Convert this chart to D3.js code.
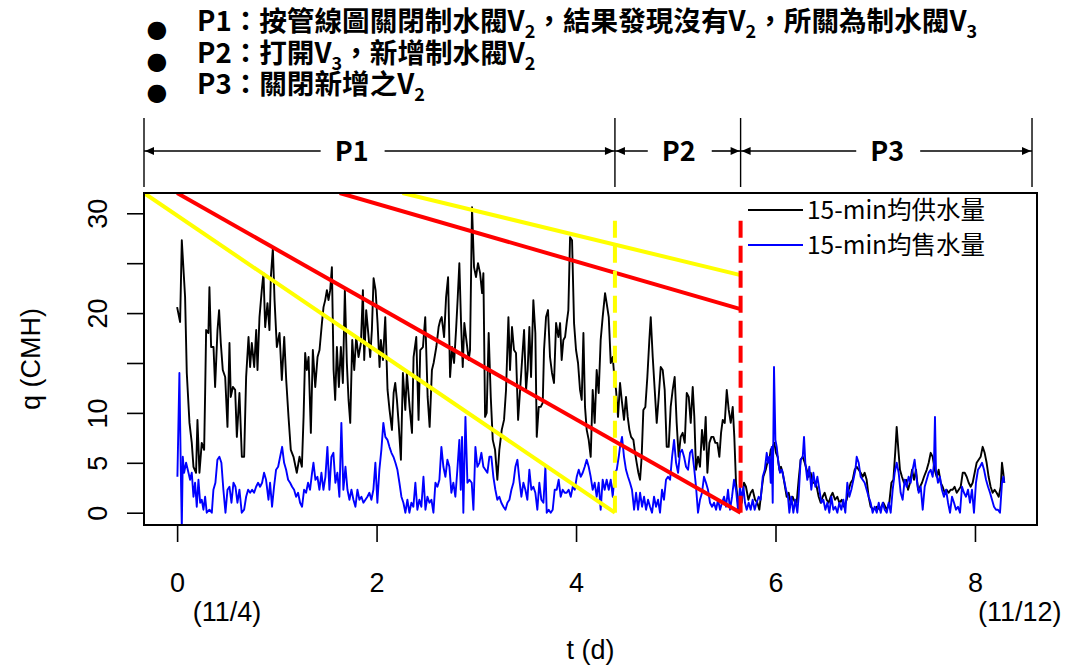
<!DOCTYPE html>
<html><head><meta charset="utf-8">
<script src="https://cdn.jsdelivr.net/npm/d3@7"></script>
<style>body{margin:0;background:#fff}svg{display:block}</style>
</head><body>
<svg id="c" width="1067" height="665"></svg>
<script>
// ---------- data ----------
const supply = [[0,20.6],[0.03,19.1],[0.047,27.3],[0.08,21.6],[0.097,14],[0.124,9],[0.147,7],[0.164,4.6],[0.19,4],[0.204,9.3],
[0.224,4],[0.247,7],[0.271,6.3],[0.281,12],[0.291,18.3],[0.314,18],[0.324,22.6],[0.341,16.6],[0.365,16.6],[0.381,12.6],
[0.405,18.3],[0.421,20.3],[0.438,17],[0.458,14.3],[0.482,13.6],[0.505,8.6],[0.525,17],[0.538,11.6],[0.559,12.6],[0.582,12.3],
[0.599,7.6],[0.625,12],[0.649,5.6],[0.672,5.6],[0.692,13.6],[0.716,17.6],[0.732,14.6],[0.749,17],[0.773,14.6],[0.793,18.3],
[0.806,14.3],[0.826,19.6],[0.849,22.3],[0.866,24],[0.883,18.6],[0.906,21],[0.926,18.3],[0.94,23.6],[0.96,26.5],[0.977,21.3],
[1.0,16.6],[1.027,18],[1.05,13.3],[1.074,17.6],[1.094,13.3],[1.117,9.6],[1.14,6.3],[1.167,5.6],[1.2,4],[1.227,5.6],
[1.251,4.6],[1.268,9.6],[1.284,16],[1.301,14.3],[1.318,15.6],[1.341,8],[1.361,16.3],[1.385,12.6],[1.408,15.6],[1.428,16.3],
[1.452,19],[1.468,20.6],[1.485,21.3],[1.502,22.3],[1.518,21.3],[1.535,22.3],[1.552,24.6],[1.569,14.3],[1.585,11.3],[1.602,16.6],
[1.622,12.6],[1.642,16.6],[1.662,13],[1.682,22.3],[1.702,15],[1.719,11.3],[1.736,9],[1.756,17.3],[1.776,14.3],[1.796,17.6],
[1.819,15.6],[1.843,17],[1.863,22.3],[1.876,15.3],[1.896,20.3],[1.92,17.6],[1.936,15.6],[1.953,18.3],[1.97,23.5],[1.99,22.3],
[2.01,19],[2.03,14.6],[2.043,17.3],[2.064,15.3],[2.087,19.6],[2.11,12.3],[2.13,10.3],[2.154,8.3],[2.171,12],[2.187,13],
[2.204,11.3],[2.221,9],[2.244,5.3],[2.264,14],[2.288,10.3],[2.304,14],[2.331,10.6],[2.355,8],[2.371,15.6],[2.398,17.6],
[2.421,9.3],[2.438,16.3],[2.465,16.6],[2.488,19.6],[2.512,11.6],[2.532,8.6],[2.555,14.3],[2.572,15],[2.599,16.6],[2.622,18.6],
[2.639,19.3],
[2.653,19.6],[2.677,17.6],[2.697,21.6],[2.717,23.6],[2.737,13.6],[2.757,16.6],[2.777,15],[2.797,18.3],[2.814,21.6],[2.83,25],
[2.847,19],[2.864,14.6],[2.88,19],[2.904,17],[2.924,15.3],[2.937,16.3],[2.957,30.6],[2.977,24.6],[2.997,23.6],[3.017,25],
[3.038,24],[3.058,22],[3.071,24],[3.088,9.6],[3.104,10],[3.124,18],[3.145,11.6],[3.165,7.3],[3.188,6.3],[3.211,3.3],
[3.231,6.3],[3.255,8.3],[3.278,9.3],[3.298,12.3],[3.322,19.6],[3.338,14.3],[3.358,18.6],[3.378,16.3],[3.398,16],[3.419,9.3],
[3.439,12.3],[3.459,15.3],[3.479,18.3],[3.499,12.3],[3.515,14.3],[3.532,18.6],[3.549,13.6],[3.572,21.3],[3.592,18],[3.606,7.6],
[3.626,10.6],[3.646,10.6],[3.666,11],[3.679,16.3],[3.699,19.6],[3.719,20.3],[3.739,15.6],[3.759,14],[3.779,13],[3.8,19],
[3.823,17.6],[3.84,19],[3.856,15.3],[3.873,17.3],[3.89,17.6],[3.906,19],[3.923,20.3],[3.94,27.6],[3.96,27.3],[3.98,19],
[4.0,16.3],[4.02,15],[4.04,12.3],[4.057,11.3],[4.074,18],[4.09,10.6],[4.107,8.3],[4.127,7.3],[4.147,5.6],[4.167,12.3],
[4.187,9],[4.207,14.3],[4.227,12],[4.247,17.3],[4.267,19.6],[4.291,22],[4.307,21],[4.328,19.6],[4.348,15],[4.368,15.6],
[4.384,13.6],[4.401,12.3],[4.421,9.6],[4.441,13],[4.458,11.3],[4.481,9.3],[4.501,11.6],[4.518,9.6],[4.535,8.3],[4.552,7.6],
[4.575,7.3],[4.592,6],[4.608,5],[4.625,4],[4.642,3.3],[4.658,5.6],[4.675,10.3],[4.695,10.6],[4.715,13.6],[4.735,17.3],
[4.749,19.6],[4.769,15.6],[4.789,12.3],[4.809,9],[4.829,11.6],[4.849,14.6],[4.869,14.3],[4.889,12.3],[4.909,6.6],[4.929,6.6],
[4.949,10.6],[4.969,12.3],[4.989,13.6],[5.009,9],[5.029,5.6],[5.049,7.6],[5.069,8],[5.09,7],[5.11,12],[5.13,11.6],
[5.15,9],[5.17,12.6],[5.186,9.6],[5.203,4.3],[5.223,5.6],[5.243,4.6],[5.263,8.3],[5.283,6.3],[5.3,9.6],[5.317,4],
[5.337,7],[5.357,7.6],[5.377,7.6],[5.397,7],[5.417,7],[5.437,5.6],[5.454,8],[5.471,9.3],[5.491,9],[5.511,12.3],
[5.531,10.3],[5.551,9],[5.571,10.6],[5.587,7.6],[5.604,3],[5.628,0.5],
[5.661,1],[5.684,3],[5.704,2.6],[5.728,1.3],[5.751,2],[5.771,2.3],[5.795,1.3],[5.818,1],[5.838,0.3],[5.861,2.3],
[5.878,3.6],[5.902,4.3],[5.918,5],[5.938,5.3],[5.952,6.3],[5.972,6.6],[5.988,7],[6.005,6],[6.022,5.6],[6.039,4.3],
[6.055,4.6],[6.072,4],[6.089,3],[6.112,1.6],[6.132,2],[6.152,1],[6.172,1.6],[6.196,1],[6.212,1],[6.232,3.3],
[6.252,5.3],[6.273,5.6],[6.293,5],[6.313,4.3],[6.333,3.6],[6.353,4],[6.373,3],[6.393,3],[6.413,2.6],[6.433,1.6],
[6.453,1],[6.473,1.6],[6.493,2],[6.513,1.3],[6.533,1],[6.553,1.6],[6.573,2],[6.597,1.3],[6.62,1.6],[6.64,1],
[6.664,1.3],[6.687,0.6],[6.714,1.3],[6.734,2.3],[6.754,3],[6.774,3.3],[6.794,4.3],[6.814,4.6],[6.834,4.3],[6.854,4],
[6.874,3.6],[6.894,4],[6.914,3.3],[6.934,1.6],[6.954,0.6],[6.981,0.3],[7.015,0.6],[7.048,0.3],[7.081,1],[7.115,0.3],
[7.141,1],[7.162,3],[7.182,3.3],[7.202,6.3],[7.215,8.6],[7.232,6.3],[7.248,4.3],[7.268,3.6],[7.288,3],[7.309,3.3],
[7.329,2.3],[7.349,3],[7.369,4.3],[7.389,3.3],[7.409,4.3],[7.429,2.3],[7.449,2.6],[7.469,3],[7.489,3.6],[7.516,4.3],
[7.536,5],[7.556,6],[7.576,5.6],[7.596,4.3],[7.616,3.6],[7.636,4.3],[7.656,3],[7.676,2.6],[7.696,2],[7.716,2.3],
[7.736,2],[7.756,2.3],[7.776,2.3],[7.796,2.6],[7.817,2],[7.837,2.3],[7.857,2.6],[7.877,4],[7.897,4],[7.917,3.6],
[7.937,3],[7.957,2.6],[7.977,3],[7.997,4],[8.017,5],[8.037,5.3],[8.057,5.6],[8.077,6.6],[8.097,6],[8.117,5],
[8.137,3.6],[8.157,2.6],[8.177,2],[8.197,2.3],[8.217,2],[8.238,1.6],[8.258,2.6],[8.271,5],[8.284,4],[8.294,3]];

const sales = [[0.003,3.6],[0.023,14],[0.037,4.3],[0.047,-1.5],[0.057,5.6],[0.07,4],[0.09,5],[0.114,4],[0.13,3.3],[0.147,4],
[0.164,1.6],[0.18,3],[0.197,0.6],[0.214,3.3],[0.231,1],[0.247,1.3],[0.264,0.3],[0.281,1.6],[0.297,0],[0.324,0.3],
[0.348,0],[0.364,2.3],[0.384,3],[0.404,5.3],[0.424,5.6],[0.444,5],[0.464,2.3],[0.485,0],[0.505,2.3],[0.525,2.6],
[0.545,1],[0.565,3],[0.585,2.6],[0.605,1],[0.625,2.3],[0.648,0],[0.672,0.3],[0.692,1.6],[0.712,2.3],[0.732,2],
[0.752,2.3],[0.772,2],[0.792,2.6],[0.812,3],[0.832,2.6],[0.852,3],[0.872,4],[0.892,3.3],[0.916,1.3],[0.932,3],
[0.952,0.6],[0.972,2.6],[0.992,4.3],[1.013,4.6],[1.033,5.6],[1.053,6.6],[1.073,5],[1.093,4.3],[1.113,3.3],[1.133,3],
[1.153,2.6],[1.173,2.3],[1.193,1.6],[1.213,2],[1.233,1],[1.253,0.6],[1.273,2.3],[1.293,2],[1.313,3],[1.333,2.3],
[1.353,4],[1.367,5],[1.387,3.3],[1.407,3.6],[1.427,2.3],[1.447,4],[1.467,2.3],[1.487,3.6],[1.507,6.6],[1.527,2.3],
[1.547,5.6],[1.567,6],[1.587,3],[1.607,4],[1.627,1.6],[1.647,9],[1.667,2.3],[1.688,4.6],[1.708,2.3],[1.728,1.3],
[1.748,2.3],[1.768,1.3],[1.788,0.6],[1.808,2.3],[1.828,1.3],[1.848,1.6],[1.868,1],[1.888,1.3],[1.908,1.6],[1.928,2],
[1.948,1.3],[1.968,2.3],[1.988,5],[2.008,1],[2.028,4.3],[2.048,6.3],[2.068,9],[2.088,7.6],[2.109,7.3],[2.129,6.6],
[2.149,6],[2.169,5.6],[2.189,5],[2.209,4.3],[2.229,3],[2.249,1.6],[2.269,1],[2.289,0],[2.309,1.3],[2.329,0],
[2.349,1],[2.369,0.6],[2.389,3],[2.409,0.3],[2.429,1.3],[2.449,0.6],[2.47,3.6],[2.49,0.3],[2.51,1.6],[2.53,1],
[2.55,1.3],[2.57,0],[2.59,3],[2.61,2.6],[2.63,3.3],
[2.65,6.6],[2.67,4.6],[2.69,3.6],[2.71,5.3],[2.73,4.6],[2.75,2],[2.77,3],[2.79,1.6],[2.81,4.3],[2.83,7.3],
[2.844,2.3],[2.857,7.6],[2.87,0],[2.891,9.6],[2.911,3],[2.931,3.3],[2.954,3],[2.971,0.3],[2.991,6.6],[3.011,4.6],
[3.031,5],[3.051,6],[3.071,4.6],[3.091,4.3],[3.111,4],[3.131,5.6],[3.151,5.6],[3.171,3.6],[3.191,2.3],[3.211,1.3],
[3.231,1.6],[3.251,1],[3.272,0.6],[3.292,0.3],[3.312,1],[3.332,1.3],[3.352,2.3],[3.372,3],[3.392,4.6],[3.412,5.3],
[3.432,3.3],[3.452,1.6],[3.472,3],[3.492,2.3],[3.512,1.3],[3.532,4.3],[3.552,2.3],[3.572,2.6],[3.592,2],[3.612,0.3],
[3.632,3],[3.652,1.3],[3.673,1],[3.693,4.6],[3.706,0],[3.726,0.3],[3.746,0],[3.766,0.3],[3.786,2.3],[3.806,2.3],
[3.826,3.3],[3.846,1.6],[3.866,2.3],[3.886,2],[3.906,2],[3.926,2.3],[3.947,1.6],[3.967,2.6],[3.987,2.3],[4.007,3.6],
[4.027,4.3],[4.047,3.6],[4.067,4],[4.087,4.6],[4.107,5.3],[4.127,4.6],[4.147,3.6],[4.167,2.3],[4.187,3],[4.207,1.6],
[4.227,3],[4.247,0.3],[4.267,3.3],[4.287,2.3],[4.307,3.3],[4.328,2.3],[4.348,3.3],[4.368,1.6],[4.388,4],[4.408,4.3],
[4.428,5.6],[4.441,6.6],[4.461,7.6],[4.481,5.6],[4.501,4.3],[4.521,3.6],[4.541,3],[4.561,2.3],[4.582,0.3],[4.602,2],
[4.622,0.3],[4.642,2],[4.662,0.6],[4.682,1.6],[4.702,0.3],[4.722,1.3],[4.742,0.6],[4.762,0],[4.782,1.6],[4.802,0.6],
[4.822,1.3],[4.842,0],[4.862,2.3],[4.882,1.3],[4.902,3.3],[4.922,3.6],[4.943,3.3],[4.963,5.6],[4.983,7.3],[5.003,5],
[5.023,4],[5.043,6],[5.063,6.3],[5.083,5.6],[5.103,4.6],[5.123,4.3],[5.143,6],[5.163,6.3],[5.183,4.6],[5.203,2.6],
[5.223,0],[5.243,1.3],[5.263,2],[5.283,3.6],[5.303,3],[5.323,2.3],[5.343,1],[5.364,0.6],[5.384,1],[5.404,0.3],
[5.424,1.3],[5.444,0.3],[5.464,1],[5.484,1.6],[5.504,0.6],[5.524,2.3],[5.544,0.3],[5.564,1.6],[5.584,3.3],[5.604,2.3],
[5.624,0.3],[5.644,2.6],
[5.661,1.3],[5.678,2.6],[5.694,1],[5.711,0.3],[5.731,1],[5.751,0.3],[5.771,1.3],[5.791,0.3],[5.811,1],[5.831,1.6],
[5.851,1.3],[5.872,3.6],[5.892,4.3],[5.912,6],[5.925,5],[5.938,5.6],[5.952,3],[5.962,6.6],[5.972,1],[5.985,14.6],
[5.999,7.3],[6.012,6.6],[6.029,5],[6.045,4],[6.065,4.3],[6.085,3.3],[6.105,2.3],[6.125,1.6],[6.139,0],[6.159,1.6],
[6.179,0],[6.199,1.3],[6.219,0],[6.232,1.6],[6.252,5.3],[6.273,5.6],[6.286,7.6],[6.299,5],[6.319,3.3],[6.339,4.6],
[6.359,2.3],[6.38,4],[6.4,2.6],[6.42,3.6],[6.44,2.3],[6.46,1],[6.48,1.3],[6.5,0.3],[6.52,1],[6.54,0],
[6.56,1.6],[6.58,0.3],[6.6,0.6],[6.62,0],[6.64,1],[6.66,0.3],[6.68,1.3],[6.7,0],[6.72,3],[6.74,1.6],
[6.76,2.3],[6.781,3.3],[6.801,4.3],[6.814,5.6],[6.834,5],[6.854,3.6],[6.874,3.3],[6.894,3],[6.914,2.3],[6.934,1.6],
[6.954,1],[6.974,0],[6.994,0.6],[7.015,0],[7.035,1],[7.055,0],[7.075,1],[7.095,0.3],[7.115,0],[7.135,1],
[7.155,0],[7.175,2.3],[7.195,4],[7.215,5],[7.235,4],[7.255,2],[7.275,1.3],[7.295,3.3],[7.315,2.6],[7.335,3.6],
[7.355,3],[7.375,4.3],[7.395,5.3],[7.416,3.3],[7.436,2],[7.456,2.6],[7.476,0.3],[7.496,2.6],[7.516,3.3],[7.536,4],
[7.556,4.3],[7.576,3.6],[7.589,5],[7.599,9.6],[7.609,4.3],[7.629,3],[7.649,3.6],[7.669,2.3],[7.689,1.6],[7.71,2.3],
[7.73,1],[7.75,0],[7.77,1.6],[7.79,1],[7.81,0.3],[7.83,0.6],[7.85,0],[7.87,2.6],[7.89,2],[7.91,1.6],
[7.93,2.3],[7.95,1],[7.97,2.3],[7.99,0],[8.01,3],[8.03,4.3],[8.05,4.6],[8.071,5],[8.091,4.3],[8.111,3.3],
[8.131,2.6],[8.151,2],[8.171,1.3],[8.191,0.6],[8.211,0.3],[8.231,0.3],[8.251,0],[8.271,3],[8.284,3.6],[8.294,3]];

// envelope lines [t, q] end points
const yellowLow  = [[-0.332, 32.03], [4.39, 0]];
const redLow     = [[0.0, 32.03], [5.65, 0]];
const redHigh    = [[1.63, 32.03], [5.65, 20.4]];
const yellowHigh = [[2.26, 32.03], [5.65, 23.8]];
const yellowDashT = 4.39, redDashT = 5.65, dashTopQ = 29.3;

const xTicks = [0, 2, 4, 6, 8];
const yTicks = [0, 5, 10, 15, 20, 25, 30];
const yTickLabels = ["0", "5", "10", "", "20", "", "30"];
const dateT = [0.5, 8.45];
const dateLabels = ["(11/4)", "(11/12)"];
const xDomain = [-0.332, 8.622];
const yDomain = [-1.232, 32.032];

const periodBounds = [-0.332, 4.39, 5.65, 8.572];
const periodNames = ["P1", "P2", "P3"];
const periodLabelT = [1.75, 5.03, 7.12];

const legendLabels = ["15-min均供水量", "15-min均售水量"];
const notes = [
  [["P1：按管線圖關閉制水閥V", 0], ["2", 1], ["，結果發現沒有V", 0], ["2", 1], ["，所關為制水閥V", 0], ["3", 1]],
  [["P2：打開V", 0], ["3", 1], ["，新增制水閥V", 0], ["2", 1]],
  [["P3：關閉新增之V", 0], ["2", 1]]
];

// ---------- drawing ----------
const svg = d3.select("#c");
const L = 144, R = 1037, T = 193, B = 525;
const x = d3.scaleLinear().domain(xDomain).range([L, R]);
const y = d3.scaleLinear().domain(yDomain).range([B, T]);
const cjk = "'Noto Sans CJK TC','Noto Sans CJK SC',sans-serif";
const sans = "'Liberation Sans',Arial,sans-serif";

svg.append("defs").append("clipPath").attr("id", "plotclip")
  .append("rect").attr("x", L).attr("y", T).attr("width", R - L).attr("height", B - T);

const plot = svg.append("g").attr("clip-path", "url(#plotclip)");
const line = d3.line().x(d => x(d[0])).y(d => y(d[1]));

plot.append("path").datum(supply).attr("d", line)
  .attr("fill", "none").attr("stroke", "#000").attr("stroke-width", 1.9).attr("stroke-linejoin", "round");
plot.append("path").datum(sales).attr("d", line)
  .attr("fill", "none").attr("stroke", "#0000ff").attr("stroke-width", 1.9).attr("stroke-linejoin", "round");

[[yellowLow, "#ffff00"], [yellowHigh, "#ffff00"], [redLow, "#ff0000"], [redHigh, "#ff0000"]].forEach(([pts, c]) => {
  plot.append("path").datum(pts).attr("d", line).attr("fill", "none").attr("stroke", c).attr("stroke-width", 4);
});
[[yellowDashT, "#ffff00"], [redDashT, "#ff0000"]].forEach(([t, c]) => {
  plot.append("line").attr("x1", x(t)).attr("x2", x(t)).attr("y1", y(0)).attr("y2", y(dashTopQ))
    .attr("stroke", c).attr("stroke-width", 4).attr("stroke-dasharray", "17,8");
});

// frame
svg.append("rect").attr("x", L).attr("y", T).attr("width", R - L).attr("height", B - T)
  .attr("fill", "none").attr("stroke", "#000").attr("stroke-width", 2);

// x axis
const xAxis = svg.append("g").attr("transform", `translate(0,${B})`)
  .call(d3.axisBottom(x).tickValues(xTicks).tickSize(17).tickSizeOuter(0).tickFormat(d3.format("d")));
xAxis.select(".domain").remove();
xAxis.selectAll(".tick line").attr("stroke-width", 1.6);
xAxis.selectAll(".tick text").attr("y", 67).attr("dy", null)
  .style("font-family", sans).style("font-size", "27px").attr("fill", "#000");
svg.append("line").attr("x1", x(xTicks[0])).attr("x2", x(xTicks[xTicks.length - 1])).attr("y1", B).attr("y2", B)
  .attr("stroke", "#000").attr("stroke-width", 1.6);

// y axis
const yAxis = svg.append("g").attr("transform", `translate(${L},0)`)
  .call(d3.axisLeft(y).tickValues(yTicks).tickSize(17).tickSizeOuter(0).tickFormat((d, i) => yTickLabels[i]));
yAxis.select(".domain").remove();
yAxis.selectAll(".tick line").attr("stroke-width", 1.6);
yAxis.selectAll(".tick text").attr("x", null).attr("dy", null)
  .attr("transform", "translate(-37,0) rotate(-90)").attr("text-anchor", "middle")
  .style("font-family", sans).style("font-size", "27px").attr("fill", "#000");
svg.append("line").attr("x1", L).attr("x2", L).attr("y1", y(yTicks[0])).attr("y2", y(yTicks[yTicks.length - 1]))
  .attr("stroke", "#000").attr("stroke-width", 1.6);

// date labels & axis titles
dateT.forEach((t, i) => {
  svg.append("text").attr("x", x(t)).attr("y", 621).attr("text-anchor", "middle")
    .style("font-family", sans).style("font-size", "27px").text(dateLabels[i]);
});
svg.append("text").attr("x", (L + R) / 2).attr("y", 659).attr("text-anchor", "middle")
  .style("font-family", sans).style("font-size", "27px").text("t (d)");
svg.append("text").attr("transform", `translate(40,${(T + B) / 2}) rotate(-90)`).attr("text-anchor", "middle")
  .style("font-family", sans).style("font-size", "27px").text("q (CMH)");

// legend
const legendColors = ["#000", "#0000ff"];
legendLabels.forEach((lab, i) => {
  const ly = 210 + i * 35;
  svg.append("line").attr("x1", 748).attr("x2", 803).attr("y1", ly).attr("y2", ly)
    .attr("stroke", legendColors[i]).attr("stroke-width", 1.8);
  svg.append("text").attr("x", 807).attr("y", ly + 9).style("font-family", cjk).style("font-size", "24.5px").text(lab);
});

// period annotation
const ay = 151;
periodBounds.forEach(t => {
  svg.append("line").attr("x1", x(t)).attr("x2", x(t)).attr("y1", 118).attr("y2", 187)
    .attr("stroke", "#000").attr("stroke-width", 1.4);
});
function head(px, dir) {
  svg.append("path").attr("d", `M${px},${ay} L${px - dir * 9},${ay - 4} L${px - dir * 9},${ay + 4} Z`).attr("fill", "#000");
}
periodNames.forEach((nm, i) => {
  const x0 = x(periodBounds[i]), x1 = x(periodBounds[i + 1]), xc = x(periodLabelT[i]);
  const tx = svg.append("text").attr("x", xc).attr("y", ay + 10).attr("text-anchor", "middle")
    .style("font-family", cjk).style("font-size", "27px").style("font-weight", "bold").text(nm);
  const w = tx.node().getComputedTextLength();
  const g1 = xc - w / 2 - 14, g2 = xc + w / 2 + 16;
  svg.append("line").attr("x1", x0).attr("x2", g1).attr("y1", ay).attr("y2", ay).attr("stroke", "#000").attr("stroke-width", 1.6);
  svg.append("line").attr("x1", g2).attr("x2", x1).attr("y1", ay).attr("y2", ay).attr("stroke", "#000").attr("stroke-width", 1.6);
  head(x0 + 1, -1);
  head(x1 - 1, 1);
});

// notes
notes.forEach((segs, i) => {
  const by = 38 + i * 31.5;
  svg.append("text").attr("x", 157).attr("y", by - 9).attr("text-anchor", "middle")
    .attr("dominant-baseline", "central")
    .style("font-family", "'DejaVu Sans',sans-serif").style("font-size", "24px").text("●");
  const t = svg.append("text").attr("x", 197).attr("y", by)
    .style("font-family", cjk).style("font-size", "27.6px").style("font-weight", "bold");
  segs.forEach(([s, sub]) => {
    if (sub) t.append("tspan").attr("dy", 7).style("font-size", "18px").text(s);
    else t.append("tspan").attr("dy", t.selectAll("tspan").size() ? -7 : 0).text(s);
  });
});
</script>
</body></html>
